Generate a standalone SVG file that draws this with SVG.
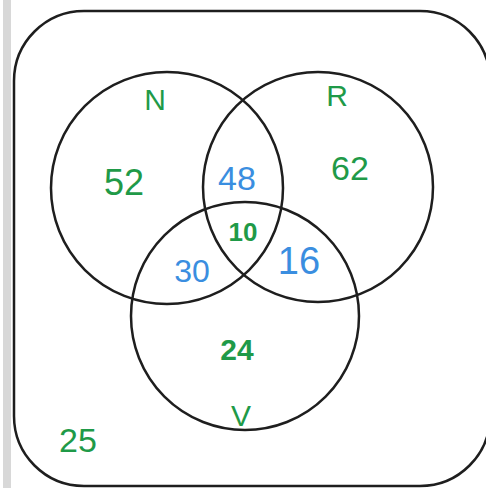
<svg xmlns="http://www.w3.org/2000/svg" width="486" height="488" viewBox="0 0 486 488">
<style>
.c{fill:none;stroke:#1e1e1e;stroke-width:2.5}
.g{fill:#1f9a48;font-family:"Liberation Sans",Arial,sans-serif;text-anchor:middle}
.b{fill:#3a8ee0;font-family:"Liberation Sans",Arial,sans-serif;text-anchor:middle}
</style>
<rect width="486" height="488" fill="#ffffff"/>
<rect x="3" y="0" width="8" height="488" fill="#d8d8d8"/>
<g id="universe"><rect class="c" x="14" y="11" width="476" height="475" rx="70" ry="70"/></g>
<g id="N"><circle class="c" cx="167" cy="188" r="116"/><text class="g" x="155" y="110" font-size="30">N</text></g>
<g id="R"><circle class="c" cx="318" cy="187" r="115"/><text class="g" x="337" y="106" font-size="30">R</text></g>
<g id="V"><circle class="c" cx="245" cy="316" r="114"/><text class="g" x="241" y="426" font-size="30">V</text></g>
<g id="labels">
<text class="g" x="124" y="195" font-size="36">52</text>
<text class="b" x="237" y="190" font-size="34">48</text>
<text class="g" x="350" y="180" font-size="34">62</text>
<text class="g" x="243" y="241" font-size="26" font-weight="bold">10</text>
<text class="b" x="192" y="282" font-size="32">30</text>
<text class="b" x="299" y="274" font-size="38">16</text>
<text class="g" x="237" y="360" font-size="30" font-weight="bold">24</text>
<text class="g" x="78" y="452" font-size="34">25</text>
</g>
</svg>
